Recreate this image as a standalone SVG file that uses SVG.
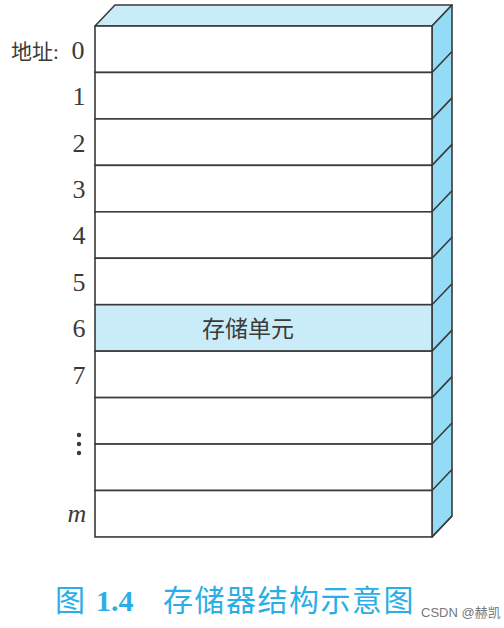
<svg xmlns="http://www.w3.org/2000/svg" width="504" height="628" viewBox="0 0 504 628">
<style>
.ln{stroke:#3a3a3a;stroke-width:1.6;fill:none;stroke-linejoin:round}
.cell{fill:#ffffff;stroke:#3a3a3a;stroke-width:1.6}
.hl{fill:#c9ecf8;stroke:#3a3a3a;stroke-width:1.6}
.top{fill:#c9ecf8;stroke:#3a3a3a;stroke-width:1.6;stroke-linejoin:round}
.side{fill:#94dbf5;stroke:#3a3a3a;stroke-width:1.6;stroke-linejoin:round}
.num{font-family:"Liberation Serif","Noto Sans CJK SC",serif;font-size:26px;fill:#3a3a3a;text-anchor:middle}
.cjk{font-family:"Liberation Serif","Noto Sans CJK SC",serif;font-size:21px;fill:#3a3a3a}
.cell-t{font-family:"Noto Sans CJK SC",sans-serif;font-size:23px;fill:#3a3a3a;text-anchor:middle}
.cap{font-family:"Noto Sans CJK SC",sans-serif;font-size:30px;fill:#2aaee6}
.capn{font-family:"Liberation Serif","Noto Sans CJK SC",serif;font-size:30px;font-weight:bold;fill:#2aaee6}
.wm{font-family:"Liberation Sans","Noto Sans CJK SC",sans-serif;font-size:13px;fill:#777}
</style>
<g id="box3d">
<polygon class="top" points="95,26 115,5 452,5 432,26"/>
<polygon class="side" points="432,26 452,5 452,516 432,537"/>
</g>
<g id="cells">
<g id="cell0"><rect class="cell" x="95" y="26" width="337" height="46.45"/></g>
<g id="cell1"><rect class="cell" x="95" y="72.45" width="337" height="46.45"/></g>
<g id="cell2"><rect class="cell" x="95" y="118.9" width="337" height="46.45"/></g>
<g id="cell3"><rect class="cell" x="95" y="165.35" width="337" height="46.45"/></g>
<g id="cell4"><rect class="cell" x="95" y="211.8" width="337" height="46.45"/></g>
<g id="cell5"><rect class="cell" x="95" y="258.25" width="337" height="46.45"/></g>
<g id="cell6"><rect class="hl" x="95" y="304.7" width="337" height="46.45"/><text class="cell-t" x="248" y="337">存储单元</text></g>
<g id="cell7"><rect class="cell" x="95" y="351.15" width="337" height="46.45"/></g>
<g id="cell8"><rect class="cell" x="95" y="397.6" width="337" height="46.45"/></g>
<g id="cell9"><rect class="cell" x="95" y="444.05" width="337" height="46.45"/></g>
<g id="cellm"><rect class="cell" x="95" y="490.5" width="337" height="46.45"/></g>
</g>
<g id="side-lines">
<path class="ln" d="M432,72.45 L452,51.45 M432,118.9 L452,97.9 M432,165.35 L452,144.35 M432,211.8 L452,190.8 M432,258.25 L452,237.25 M432,304.7 L452,283.7 M432,351.15 L452,330.15 M432,397.6 L452,376.6 M432,444.05 L452,423.05 M432,490.5 L452,469.5 M432,537 L452,516"/>
</g>
<g id="labels">
<text class="cjk" x="11" y="59">地址:</text>
<text class="num" x="78" y="59">0</text>
<text class="num" x="79" y="105">1</text>
<text class="num" x="79" y="152">2</text>
<text class="num" x="79" y="198">3</text>
<text class="num" x="79" y="244">4</text>
<text class="num" x="79" y="291">5</text>
<text class="num" x="79" y="337">6</text>
<text class="num" x="79" y="384">7</text>
<circle cx="79" cy="435" r="2.2" fill="#3a3a3a"/>
<circle cx="79" cy="444" r="2.2" fill="#3a3a3a"/>
<circle cx="79" cy="453" r="2.2" fill="#3a3a3a"/>
<text class="num" x="77" y="522" font-style="italic">m</text>
</g>
<g id="caption">
<text class="cap" x="55" y="611">图</text>
<text class="capn" x="96" y="611">1.4</text>
<text class="cap" x="163" y="611" letter-spacing="1.5">存储器结构示意图</text>
<text class="wm" x="421" y="617">CSDN @赫凯</text>
</g>
</svg>
